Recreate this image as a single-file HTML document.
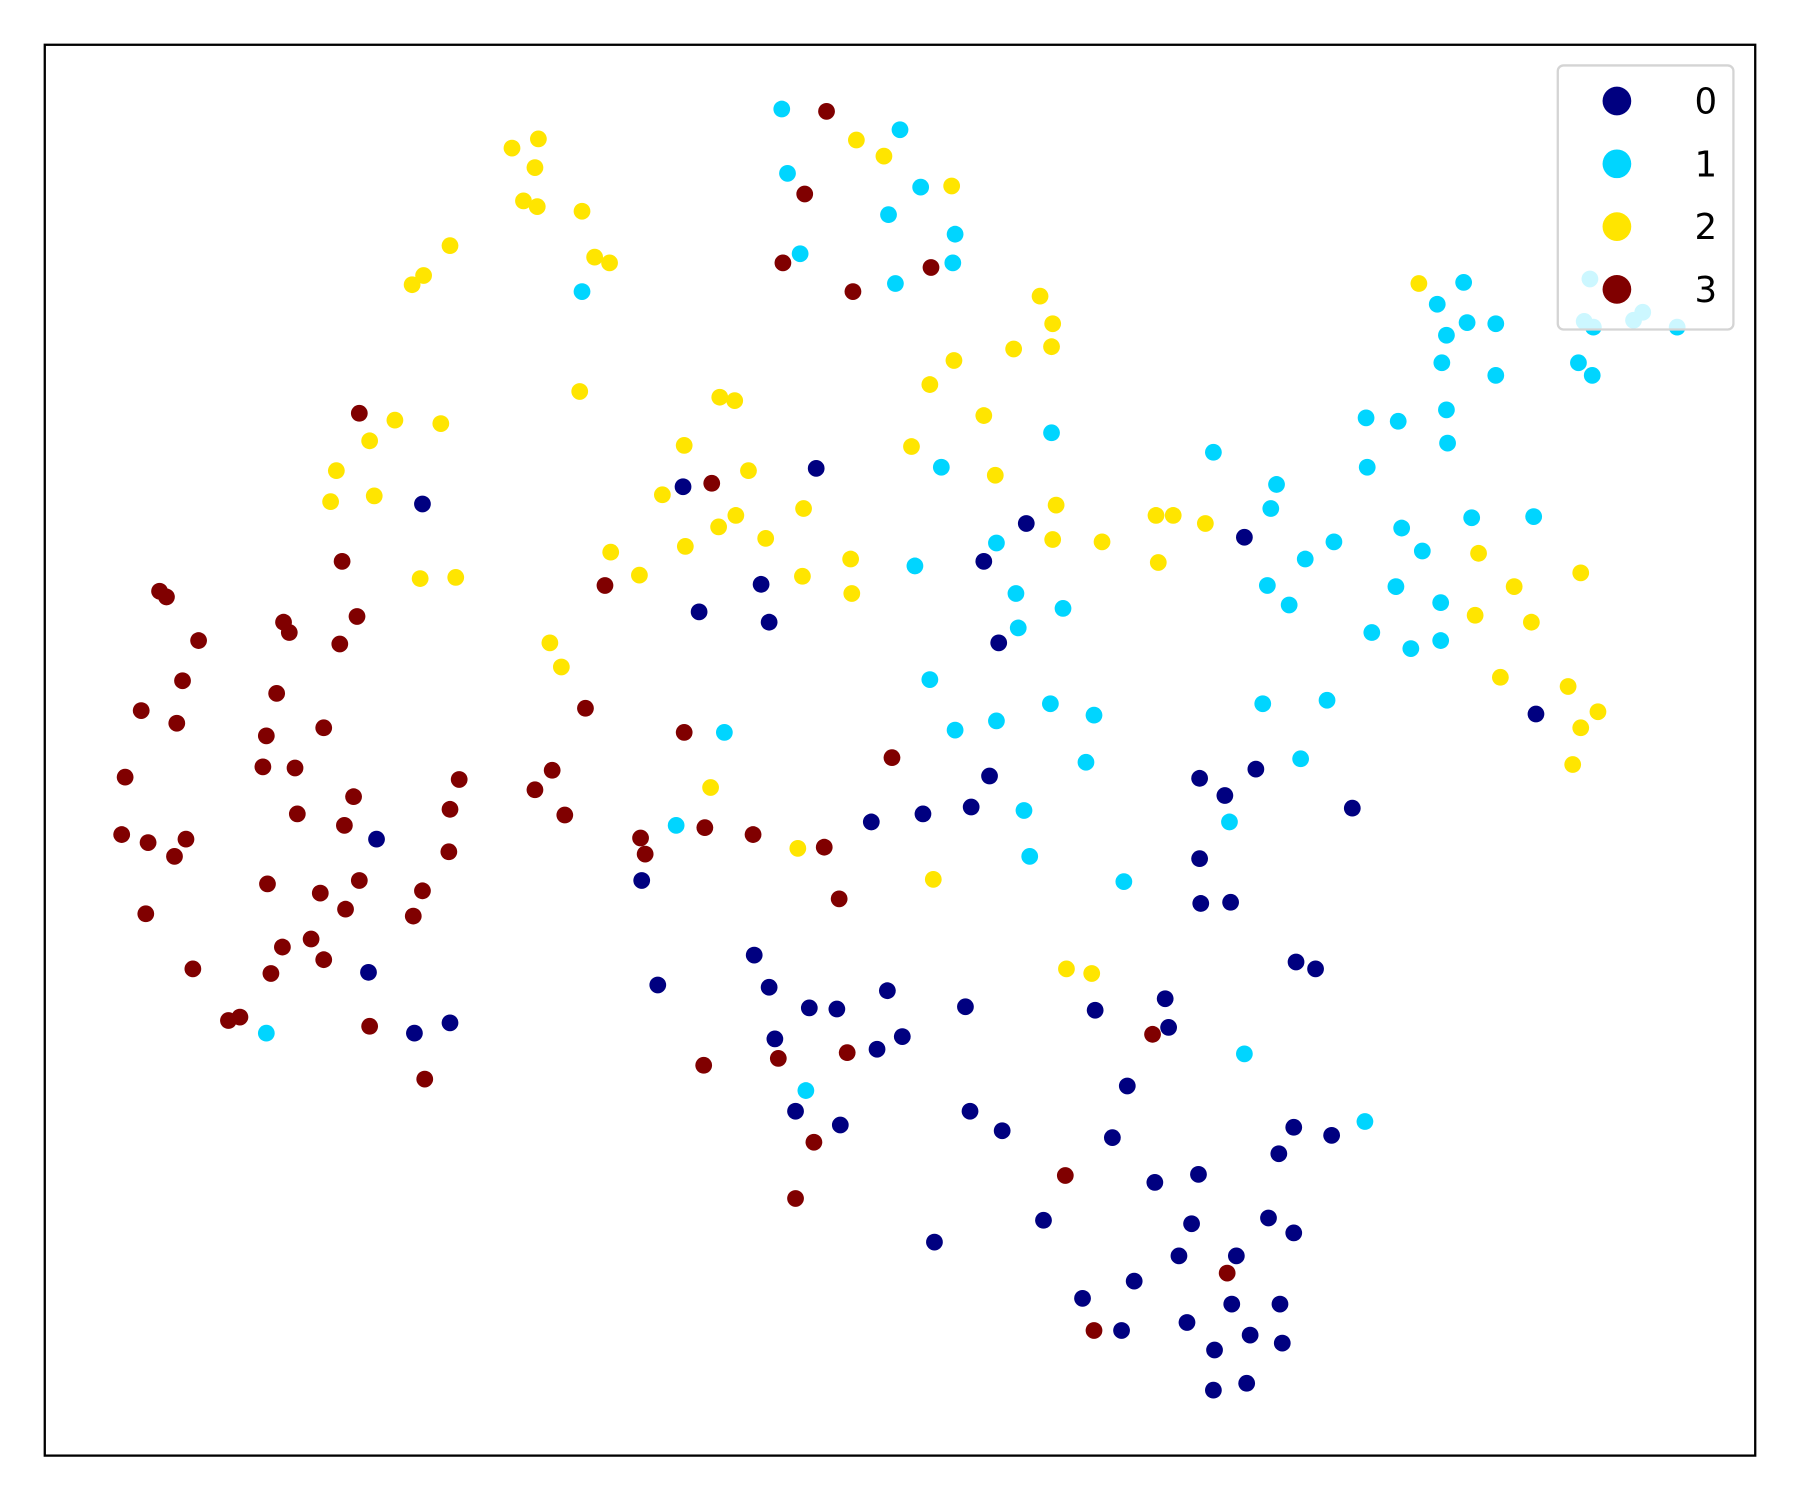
<!DOCTYPE html>
<html><head><meta charset="utf-8"><style>html,body{margin:0;padding:0;background:#fff}svg{display:block}</style></head>
<body>
<svg id="chart" width="1800" height="1500" viewBox="0 0 1568 1306.67" xmlns="http://www.w3.org/2000/svg">
<rect x="0" y="0" width="1568" height="1306.67" fill="#fff"/>
<g id="points"></g>
<rect x="39" y="39" width="1490" height="1229" fill="none" stroke="#000" stroke-width="2"/>
<g id="legend"></g>
</svg>
<script>
const classLabels = ["0","1","2","3"];
const classColors = ["#000080","#00d5ff","#ffe500","#800000"];
const x0 = [71.1,59.5,36.8,89.4,108.4,85.7,66.3,60.9,67.0,87.0,133.8,86.2,109.4,104.5,106.7,117.8,75.9,80.4,84.6,32.8,104.5,55.9,104.6,107.2,65.7,112.9,114.6,32.1,57.3,67.0,77.3,101.5,70.5,72.9,84.1,95.4,39.2,101.8,36.1,67.5,78.6,76.4,98.2,69.3,84.5,73.2,87.3,96.9,112.7,116.0,111.4,100.6,104.4,110.5,90.9,103.8,112.7,81.4,102.7,107.7,98.8,94.3,107.3,111.5,103.4,97.7,108.9,111.7,105.8,108.6,105.7];
const y0 = [40.8,42.4,43.9,45.6,46.8,48.9,50.9,53.3,54.2,56.0,62.2,67.6,67.0,67.8,69.3,70.4,71.6,70.9,70.3,73.1,74.8,76.7,78.7,78.6,83.2,83.8,84.4,84.7,85.8,86.0,86.3,87.0,87.8,87.9,87.7,88.0,89.1,89.5,90.0,90.5,90.3,91.4,94.6,96.8,96.8,98.0,98.5,99.1,98.2,98.9,100.5,103.0,102.3,106.1,106.3,106.6,107.4,108.2,109.4,109.4,111.6,113.1,113.6,113.6,115.2,115.9,116.3,117.0,117.6,120.5,121.1];
const x1 = [68.1,78.4,68.6,80.2,77.4,83.2,69.7,83.0,78.0,50.7,91.6,82.0,105.7,111.2,110.7,119.0,121.8,119.1,86.8,79.7,88.5,92.6,88.7,116.2,113.7,110.4,112.3,122.1,123.9,121.6,125.5,119.5,122.9,125.5,128.2,133.6,127.5,125.2,127.8,130.3,126.0,125.6,130.3,137.5,138.7,126.0,126.1,146.1,81.0,83.2,86.8,91.5,95.3,63.1,94.6,110.0,115.6,113.3,89.2,89.7,58.9,107.1,97.9,23.2,108.4,70.2,118.9,138.5,138.0,138.8,142.3,143.1];
const y1 = [9.5,11.3,15.1,16.3,18.7,20.4,22.1,22.9,24.7,25.4,37.7,40.7,39.4,42.2,44.3,36.4,36.7,40.7,47.3,49.3,51.7,53.0,54.7,47.2,48.7,51.0,52.7,46.0,48.0,51.1,52.5,55.1,56.5,55.8,45.1,45.0,24.6,26.5,28.1,28.2,29.2,31.6,32.7,31.6,32.7,35.7,38.6,28.5,59.2,63.6,62.8,61.3,62.3,63.8,66.4,61.3,61.0,66.1,70.6,74.6,71.9,71.6,76.8,90.0,91.8,95.0,97.7,24.3,28.0,28.5,27.9,27.2];
const x2 = [44.6,46.9,46.6,45.6,46.8,50.7,39.2,51.8,53.1,36.9,35.9,74.6,77.0,82.9,90.6,91.7,91.6,88.3,83.1,81.0,50.5,62.7,64.0,85.7,34.4,38.4,32.2,59.6,79.4,29.3,65.2,86.7,28.8,32.6,57.7,70.0,64.1,62.6,66.7,92.0,91.7,96.0,100.7,102.2,105.0,100.9,59.7,53.2,55.7,69.9,74.1,74.2,36.6,39.7,47.9,48.9,123.6,128.8,137.7,131.9,128.5,133.4,130.7,136.6,139.2,137.7,137.0,61.9,69.5,81.3,92.9,95.1];
const y2 = [12.9,12.1,14.6,17.5,18.0,18.4,21.4,22.4,22.9,24.0,24.8,12.2,13.6,16.2,25.8,28.2,30.2,30.4,31.4,33.5,34.1,34.6,34.9,36.2,36.6,36.9,38.4,38.8,38.9,41.0,41.0,41.4,43.7,43.2,43.1,44.3,44.9,45.9,46.9,44.0,47.0,47.2,44.9,44.9,45.6,49.0,47.6,48.1,50.1,50.2,48.7,51.7,50.4,50.3,56.0,58.1,24.7,48.2,49.9,51.1,53.6,54.2,59.0,59.8,62.0,63.4,66.6,68.6,73.9,76.6,84.4,84.8];
const x3 = [72.0,70.1,68.2,81.1,74.3,31.3,62.0,29.8,52.7,31.1,29.6,13.9,14.5,24.7,25.2,17.3,15.9,24.1,12.3,15.4,28.2,23.2,22.9,25.7,10.9,40.0,30.8,46.6,48.1,51.0,59.6,77.7,25.9,39.2,30.0,49.2,10.6,12.9,16.2,15.2,39.1,55.8,56.2,61.4,65.6,71.8,73.1,23.3,31.3,27.9,36.8,12.7,30.1,36.0,27.1,24.6,28.2,23.6,16.8,19.9,20.9,32.2,37.0,61.3,67.8,73.8,100.4,70.9,92.8,69.3,106.9,95.3];
const y3 = [9.7,16.9,22.9,23.3,25.4,36.0,42.1,48.9,51.0,53.7,56.1,51.5,52.0,54.2,55.1,55.8,59.3,60.4,61.9,63.0,63.4,64.1,66.8,66.9,67.7,67.9,69.4,68.8,67.1,61.7,63.8,66.0,70.9,70.5,71.9,71.0,72.7,73.4,73.1,74.6,74.2,73.0,74.4,72.1,72.7,73.8,78.3,77.0,76.7,77.8,77.6,79.6,79.2,79.8,81.8,82.5,83.6,84.8,84.4,88.9,88.6,89.4,94.0,92.8,92.2,91.7,90.1,99.5,102.4,104.4,110.9,115.9];
const xs = [x0,x1,x2,x3], ys = [y0,y1,y2,y3];

const xDomain = [3.9, 152.9], yDomain = [3.9, 126.8];
const plot = {left:39, right:1529, top:39, bottom:1268};
function xScale(v){return plot.left + (v - xDomain[0])/(xDomain[1]-xDomain[0])*(plot.right-plot.left);}
function yScale(v){return plot.top + (v - yDomain[0])/(yDomain[1]-yDomain[0])*(plot.bottom-plot.top);}

const NS = "http://www.w3.org/2000/svg";
const g = document.getElementById('points');
for (let c = 0; c < xs.length; c++) {
  const n = Math.min(xs[c].length, ys[c].length);
  for (let i = 0; i < n; i++) {
    const p = document.createElementNS(NS, 'circle');
    p.setAttribute('cx', xScale(xs[c][i]));
    p.setAttribute('cy', yScale(ys[c][i]));
    p.setAttribute('r', 7.3);
    p.setAttribute('fill', classColors[c]);
    
    
    g.appendChild(p);
  }
}

const lg = document.getElementById('legend');
const box = document.createElementNS(NS, 'rect');
box.setAttribute('x', 1357); box.setAttribute('y', 57);
box.setAttribute('width', 153); box.setAttribute('height', 230);
box.setAttribute('rx', 5);
box.setAttribute('fill', 'rgba(255,255,255,0.8)');
box.setAttribute('stroke', '#d4d4d4'); box.setAttribute('stroke-width', 2);


lg.appendChild(box);
for (let c = 0; c < classLabels.length; c++) {
  const cy = 88 + c * 54.7;
  const m = document.createElementNS(NS, 'circle');
  m.setAttribute('cx', 1408.5); m.setAttribute('cy', cy); m.setAttribute('r', 12.5);
  m.setAttribute('fill', classColors[c]);
  
  
  lg.appendChild(m);
  const t = document.createElementNS(NS, 'text');
  t.setAttribute('x', 1486); t.setAttribute('y', cy + 11);
  t.setAttribute('text-anchor', 'middle');
  t.setAttribute('font-family', 'DejaVu Sans, Liberation Sans, sans-serif');
  t.setAttribute('font-size', 31);
  t.textContent = classLabels[c];
  
  
  lg.appendChild(t);
}
</script>
</body></html>
